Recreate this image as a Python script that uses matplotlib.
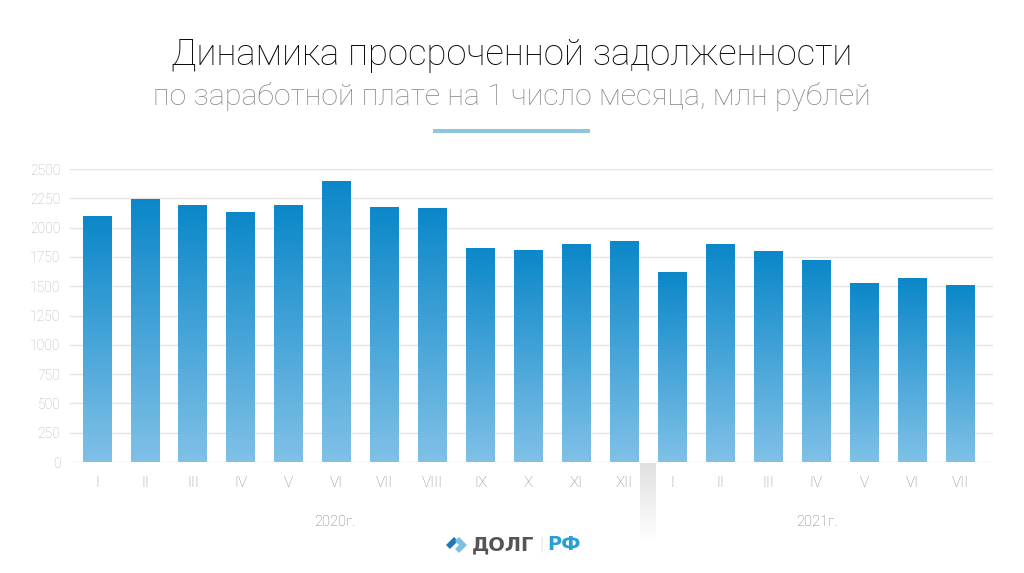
import numpy as np
import matplotlib.pyplot as plt
from matplotlib.patches import Polygon, Rectangle
from matplotlib.colors import LinearSegmentedColormap

plt.rcParams['font.family'] = ['Roboto', 'DejaVu Sans']

months = ['I', 'II', 'III', 'IV', 'V', 'VI', 'VII', 'VIII', 'IX', 'X', 'XI', 'XII',
          'I', 'II', 'III', 'IV', 'V', 'VI', 'VII']
values = [2100, 2240, 2197, 2135, 2197, 2398, 2180, 2163, 1830, 1811, 1858, 1887,
          1621, 1858, 1797, 1726, 1525, 1568, 1508]
years = ['2020г.', '2021г.']
yticks = [0, 250, 500, 750, 1000, 1250, 1500, 1750, 2000, 2250, 2500]

W, H = 1024, 573
fig = plt.figure(figsize=(W / 100, H / 100), dpi=100)

def fx(px):
    return px / W

def fy(py):
    return 1 - py / H

# main axes
ax = fig.add_axes([fx(70), fy(462), fx(993) - fx(70), fy(169) - fy(462)])
x = np.arange(len(values))

for v in yticks:
    ax.axhline(v, color='#e4e4e4', lw=1, zorder=0)

cmap = LinearSegmentedColormap.from_list('bar', ['#80c1e7', '#0b87c9'])
grad = np.linspace(0, 1, 256).reshape(-1, 1)
bw = 0.6
bars = ax.bar(x, values, width=bw, color='none', edgecolor='none')
for b in bars:
    x0, w, h = b.get_x(), b.get_width(), b.get_height()
    im = ax.imshow(grad, extent=[x0, x0 + w, 0, h], origin='lower', cmap=cmap,
                   aspect='auto', zorder=2)
    im.set_clip_path(b)
ax.set_xlim(-0.563, 18.69)
ax.set_ylim(0, 2500)

ax.set_xticks(x)
ax.set_xticklabels(months, color='#868686', fontsize=11, fontweight='light')
ax.set_yticks(yticks)
ax.set_yticklabels([str(v) for v in yticks], color='#b5b5b5', fontsize=10,
                   fontweight='light')
ax.tick_params(axis='x', length=0, pad=10)
ax.tick_params(axis='y', length=0, pad=7)
for s in ax.spines.values():
    s.set_visible(False)
ax.patch.set_alpha(0)

# separator between years
sep = fig.add_axes([fx(640), fy(542), fx(16), fy(463) - fy(542)])
rgba = np.zeros((100, 1, 4))
rgba[..., :3] = 0.88
rgba[:, 0, 3] = np.linspace(0.0, 1.0, 100)
sep.imshow(rgba, aspect='auto', origin='lower', extent=[0, 1, 0, 1])
sep.axis('off')

# year labels
fig.text(fx(335), fy(522), years[0], ha='center', va='center', fontsize=10.5,
         color='#777777', fontweight='light')
fig.text(fx(817), fy(522), years[1], ha='center', va='center', fontsize=10.5,
         color='#777777', fontweight='light')

# titles
fig.text(0.5, fy(55), 'Динамика просроченной задолженности', ha='center',
         va='center', fontsize=26.3, color='#0a0a0a', fontweight='light')
fig.text(0.5, fy(97), 'по заработной плате на 1 число месяца, млн рублей',
         ha='center', va='center', fontsize=21.8, color='#8a8a8a',
         fontweight='light')
fig.add_artist(Rectangle((fx(433), fy(133)), fx(157), fy(129) - fy(133),
                         transform=fig.transFigure, color='#8ec6dd', lw=0))

# logo
def pt(px, py):
    return (fx(px), fy(py))

fig.add_artist(Polygon([pt(446, 545), pt(454, 537), pt(458, 541), pt(450, 549)],
                       closed=True, transform=fig.transFigure, color='#1f77b8', lw=0))
fig.add_artist(Polygon([pt(455, 541), pt(459, 537), pt(467, 545), pt(459, 553),
                        pt(455, 549), pt(459, 545)],
                       closed=True, transform=fig.transFigure, color='#7cc0e6', lw=0))
fig.text(fx(472), fy(545), 'ДОЛГ', ha='left', va='center', fontsize=14,
         color='#555555', fontweight='bold', family='DejaVu Sans')
fig.text(fx(541), fy(545), '|', ha='center', va='center', fontsize=14,
         color='#9fd0ea', fontweight='light')
fig.text(fx(547), fy(545), 'РФ', ha='left', va='center', fontsize=14,
         color='#2a9fd6', fontweight='bold', family='DejaVu Sans')

fig.savefig('out.png', dpi=100)
